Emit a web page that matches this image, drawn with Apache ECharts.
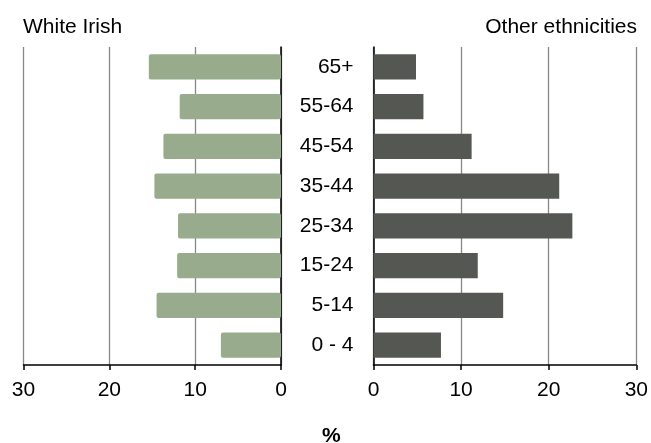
<!DOCTYPE html>
<html>
<head>
<meta charset="utf-8">
<script src="https://cdn.jsdelivr.net/npm/echarts@6/dist/echarts.min.js"></script>
<style>html,body{margin:0;padding:0;background:#fff}#c{width:651px;height:443px}</style>
</head>
<body>
<div id="c"></div>
<script>
const categories = ['0 - 4', '5-14', '15-24', '25-34', '35-44', '45-54', '55-64', '65+'];
const whiteIrish = [7.0, 14.5, 12.1, 12.0, 14.75, 13.7, 11.8, 15.4];
const otherEthnicities = [7.7, 14.8, 11.9, 22.7, 21.2, 11.2, 5.7, 4.85];
const tickValues = [0, 10, 20, 30];
const leftTitle = 'White Irish';
const rightTitle = 'Other ethnicities';
const unitLabel = '%';

const FONT = '"Liberation Sans", Arial, sans-serif';
const FS = 21;
const chart = echarts.init(document.getElementById('c'), null, {renderer: 'canvas'});
const xCommon = {
  type: 'value', min: tickValues[0], max: tickValues[tickValues.length - 1], interval: 10,
  axisLine: {show: true, lineStyle: {color: '#000', width: 1.5}},
  axisTick: {show: true, length: 5, lineStyle: {color: '#000', width: 1.5}},
  axisLabel: {color: '#000', fontSize: FS, fontFamily: FONT, margin: 15},
  splitLine: {show: true, lineStyle: {color: '#888', width: 1.3}}
};
chart.setOption({
  animation: false,
  textStyle: {fontFamily: FONT},
  title: [
    {text: leftTitle, left: 18, top: 12, textStyle: {fontSize: FS, fontWeight: 'normal', color: '#000', fontFamily: FONT}},
    {text: rightTitle, right: 9, top: 12, textStyle: {fontSize: FS, fontWeight: 'normal', color: '#000', fontFamily: FONT}}
  ],
  graphic: [{type: 'text', left: 322, top: 426, style: {text: unitLabel, fontSize: FS, fontWeight: 'bold', fontFamily: FONT, fill: '#000'}}],
  grid: [
    {left: 23.5, width: 257.5, top: 47, height: 318},
    {left: 373.5, width: 264, top: 47, height: 318}
  ],
  xAxis: [
    Object.assign({}, xCommon, {gridIndex: 0, inverse: true}),
    Object.assign({}, xCommon, {gridIndex: 1})
  ],
  yAxis: [
    {type: 'category', gridIndex: 0, data: categories, position: 'right',
     axisLine: {show: true, lineStyle: {color: '#000', width: 1.5}}, axisTick: {show: false}, axisLabel: {show: false}},
    {type: 'category', gridIndex: 1, data: categories, position: 'left',
     axisLine: {show: true, lineStyle: {color: '#000', width: 1.5}}, axisTick: {show: false},
     axisLabel: {color: '#000', fontSize: FS, fontFamily: FONT, margin: 20}}
  ],
  series: [
    {type: 'bar', xAxisIndex: 0, yAxisIndex: 0, data: whiteIrish, barWidth: '63%',
     itemStyle: {color: '#98ab8c', borderRadius: 2}},
    {type: 'bar', xAxisIndex: 1, yAxisIndex: 1, data: otherEthnicities, barWidth: '63%',
     itemStyle: {color: '#555753'}}
  ]
});
</script>
</body>
</html>
